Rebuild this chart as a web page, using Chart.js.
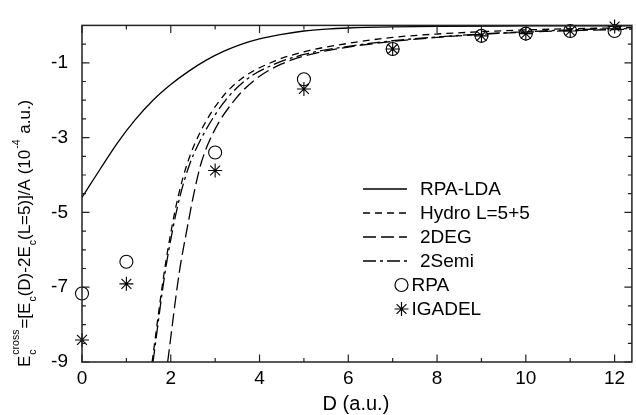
<!DOCTYPE html>
<html>
<head>
<meta charset="utf-8">
<script src="https://cdn.jsdelivr.net/npm/chart.js@4/dist/chart.umd.min.js"></script>
<style>
html,body{margin:0;padding:0;background:#fff;overflow:hidden;}
#wrap{width:640px;height:415px;}
</style>
</head>
<body>
<div id="wrap"><canvas id="c" width="640" height="415"></canvas></div>
<script>
// ---- data ----
const ldaX   = [0, 0.4, 0.8, 1.2, 1.6, 2.0, 2.4, 2.8, 3.2, 3.6, 4.0, 4.5, 5.0, 5.5, 6.0, 7.0, 8.0, 10.0, 12.4];
const ldaY   = [-4.6, -3.86, -3.14, -2.52, -2.0, -1.58, -1.23, -0.93, -0.69, -0.50, -0.36, -0.24, -0.15, -0.10, -0.07, -0.04, -0.025, -0.015, -0.01];

const hydroX = [1.58, 1.85, 2.02, 2.17, 2.37, 2.67, 3.12, 3.6, 4.35, 5.09, 6.0, 7.0, 8.0, 9.0, 10.0, 11.0, 12.4];
const hydroY = [-9, -6.62, -5.42, -4.56, -3.70, -2.84, -1.98, -1.42, -0.95, -0.68, -0.48, -0.32, -0.23, -0.17, -0.12, -0.09, -0.06];

const degX   = [1.93, 2.19, 2.37, 2.51, 2.68, 2.97, 3.45, 3.9, 4.5, 5.2, 6.0, 7.0, 8.0, 9.0, 10.0, 11.0, 12.4];
const degY   = [-9, -6.62, -5.42, -4.56, -3.70, -2.84, -1.98, -1.45, -1.03, -0.76, -0.58, -0.43, -0.32, -0.24, -0.18, -0.14, -0.10];

const semiX  = [1.60, 1.87, 2.05, 2.21, 2.43, 2.77, 3.25, 3.7, 4.35, 5.1, 6.0, 7.0, 8.0, 9.0, 10.0, 11.0, 12.4];
const semiY  = [-9, -6.62, -5.42, -4.56, -3.70, -2.84, -1.98, -1.45, -1.03, -0.75, -0.56, -0.41, -0.31, -0.23, -0.17, -0.12, -0.08];

const rpaX    = [0, 1, 3, 5, 7, 9, 10, 11, 12];
const rpaY    = [-7.17, -6.32, -3.40, -1.44, -0.63, -0.28, -0.22, -0.15, -0.15];
const igadelX = [0, 1, 3, 5, 7, 9, 10, 11, 12];
const igadelY = [-8.41, -6.91, -3.88, -1.70, -0.63, -0.28, -0.22, -0.15, -0.03];

const xMajorTicks = [0, 2, 4, 6, 8, 10, 12];
const xMinorTicks = [1, 3, 5, 7, 9, 11];
const yMajorTicks = [-9, -7, -5, -3, -1];
const yMinorTicks = [-8.5, -8, -7.5, -6.5, -6, -5.5, -4.5, -4, -3.5, -2.5, -2, -1.5, -0.5];

const xTitle = 'D (a.u.)';
const legendLabels = ['RPA-LDA', 'Hydro L=5+5', '2DEG', '2Semi', 'RPA', 'IGADEL'];

// ---- helpers ----
const pts = (xs, ys) => xs.map((x, i) => ({x: x, y: ys[i]}));
const FONT = '"Liberation Sans", Arial, Helvetica, sans-serif';

function lineDS(label, xs, ys, dash) {
  return {
    label: label, data: pts(xs, ys), showLine: true, borderColor: '#000',
    borderWidth: 1.3, borderDash: dash, pointRadius: 0, pointHoverRadius: 0,
    cubicInterpolationMode: 'monotone', fill: false
  };
}
function markDS(label, xs, ys, style, r) {
  return {
    label: label, data: pts(xs, ys), showLine: false, pointStyle: style,
    pointRadius: r, pointHoverRadius: r, borderColor: '#000', borderWidth: 1.1,
    backgroundColor: 'rgba(0,0,0,0)', clip: false
  };
}

const datasets = [
  lineDS(legendLabels[0], ldaX, ldaY, []),
  lineDS(legendLabels[1], hydroX, hydroY, [7, 5]),
  lineDS(legendLabels[2], degX, degY, [13, 5]),
  lineDS(legendLabels[3], semiX, semiY, [13, 4, 3, 4]),
  markDS(legendLabels[4], rpaX, rpaY, 'circle', 6.5),
  markDS(legendLabels[5], igadelX, igadelY, 'star', 7)
];

// frame, inward ticks, legend and axis titles
const decor = {
  id: 'decor',
  afterDatasetsDraw(chart) {
    const ctx = chart.ctx, a = chart.chartArea;
    const xs = chart.scales.x, ys = chart.scales.y;
    ctx.save();
    ctx.strokeStyle = '#222';
    ctx.lineWidth = 1.5;
    ctx.strokeRect(a.left, a.top, a.right - a.left, a.bottom - a.top);
    ctx.lineWidth = 1.2;
    ctx.beginPath();
    const tk = (vals, len) => vals.forEach(v => {
      const px = xs.getPixelForValue(v);
      ctx.moveTo(px, a.bottom); ctx.lineTo(px, a.bottom - len);
      ctx.moveTo(px, a.top); ctx.lineTo(px, a.top + len);
    });
    tk(xMajorTicks, 7.5); tk(xMinorTicks, 4);
    const tky = (vals, len) => vals.forEach(v => {
      const py = ys.getPixelForValue(v);
      ctx.moveTo(a.left, py); ctx.lineTo(a.left + len, py);
      ctx.moveTo(a.right, py); ctx.lineTo(a.right - len, py);
    });
    tky(yMajorTicks, 7.5); tky(yMinorTicks, 4);
    ctx.stroke();

    // legend
    const lx0 = 363, lx1 = 407, tx = 420, ty0 = 189, dy = 24;
    ctx.font = '19px ' + FONT;
    ctx.fillStyle = '#000';
    ctx.textBaseline = 'middle';
    ctx.textAlign = 'left';
    chart.data.datasets.forEach((ds, i) => {
      const y = ty0 + i * dy;
      if (ds.showLine) {
        ctx.save();
        ctx.strokeStyle = '#000';
        ctx.lineWidth = 1.3;
        ctx.setLineDash(ds.borderDash || []);
        ctx.beginPath(); ctx.moveTo(lx0, y); ctx.lineTo(lx1, y); ctx.stroke();
        ctx.restore();
        ctx.fillText(ds.label, tx, y + 1);
      } else {
        ctx.save();
        ctx.strokeStyle = '#000';
        ctx.fillStyle = 'rgba(0,0,0,0)';
        Chart.helpers.drawPoint(ctx, {pointStyle: ds.pointStyle, radius: ds.pointRadius, borderWidth: 1.1, rotation: 0}, 401.5, y);
        ctx.restore();
        ctx.fillStyle = '#000';
        ctx.fillText(ds.label, 411.5, y + 1);
      }
    });

    // x title
    ctx.textAlign = 'center';
    ctx.font = '20px ' + FONT;
    ctx.fillText(xTitle, (a.left + a.right) / 2 - 1, 404);

    // y title (rotated, with sub/superscripts)
    const big = '17px ' + FONT, small = '10.5px ' + FONT;
    const segs = [
      {t: 'E', k: 'n'},
      {t: 'c', k: 'sub', s: 'cross'},
      {t: '=[E', k: 'n'},
      {t: 'c', k: 'sub'},
      {t: '(D)-2E', k: 'n'},
      {t: 'c', k: 'sub'},
      {t: '(L=5)]/A (10', k: 'n'},
      {t: '-4', k: 'sup'},
      {t: ' a.u.)', k: 'n'}
    ];
    ctx.save();
    ctx.translate(30, 367);
    ctx.rotate(-Math.PI / 2);
    ctx.textAlign = 'left';
    ctx.textBaseline = 'alphabetic';
    let x = 0;
    segs.forEach(s => {
      if (s.k === 'n') {
        ctx.font = big; ctx.fillText(s.t, x, 0); x += ctx.measureText(s.t).width;
      } else if (s.k === 'sub') {
        ctx.font = small;
        ctx.fillText(s.t, x + 1, 6);
        let w = ctx.measureText(s.t).width + 1;
        if (s.s) { ctx.fillText(s.s, x + 1, -11); w = Math.max(w, ctx.measureText(s.s).width + 2); }
        x += w;
      } else {
        ctx.font = small; ctx.fillText(s.t, x + 1, -10); x += ctx.measureText(s.t).width + 2;
      }
    });
    ctx.restore();
    ctx.restore();
  }
};

new Chart(document.getElementById('c'), {
  type: 'scatter',
  data: {datasets: datasets},
  options: {
    responsive: false,
    devicePixelRatio: 1,
    animation: false,
    events: [],
    layout: {padding: {left: 0, top: 13, right: 3, bottom: 0}},
    plugins: {legend: {display: false}, tooltip: {enabled: false}},
    scales: {
      x: {
        type: 'linear', min: 0, max: 12.39,
        grid: {display: false, drawTicks: false}, border: {display: false},
        afterBuildTicks: s => { s.ticks = xMajorTicks.map(v => ({value: v})); },
        afterFit: s => { s.height = 53; },
        ticks: {color: '#000', font: {family: FONT, size: 19}, padding: 5, maxRotation: 0,
                callback: v => String(v)}
      },
      y: {
        type: 'linear', min: -9, max: 0,
        grid: {display: false, drawTicks: false}, border: {display: false},
        afterBuildTicks: s => { s.ticks = yMajorTicks.map(v => ({value: v})); },
        afterFit: s => { s.width = 82; },
        ticks: {color: '#000', font: {family: FONT, size: 19}, padding: 14,
                callback: v => String(v)}
      }
    }
  },
  plugins: [decor]
});
</script>
</body>
</html>
